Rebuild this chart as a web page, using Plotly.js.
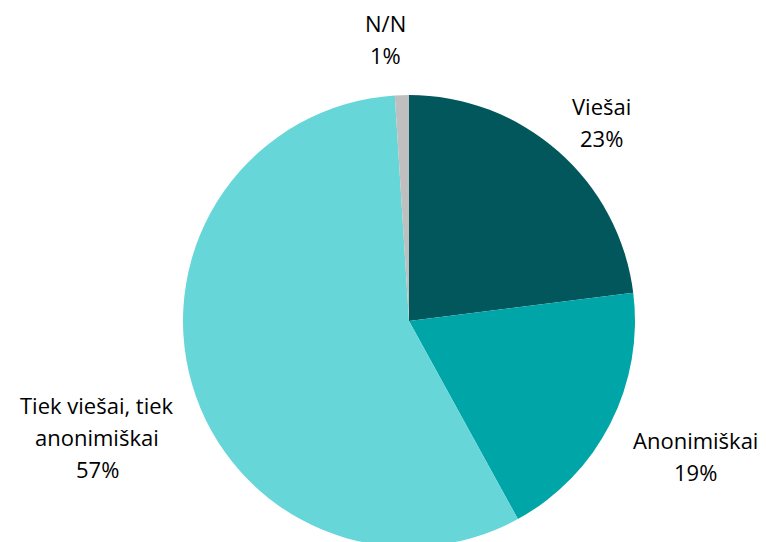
<!DOCTYPE html>
<html>
<head>
<meta charset="utf-8">
<script src="https://cdn.plot.ly/plotly-3.0.1.min.js"></script>
<style>html,body{margin:0;padding:0;background:#fff;overflow:hidden;}</style>
</head>
<body>
<div id="chart" style="width:766px;height:552px;"></div>
<script>
// Data
const categories = ["Viešai", "Anonimiškai", "Tiek viešai, tiek anonimiškai", "N/N"];
const values = [23, 19, 57, 1];
const labelLines = [["Viešai"], ["Anonimiškai"], ["Tiek viešai, tiek", "anonimiškai"], ["N/N"]];
const colors = ["#02575C", "#00A5A8", "#67D6D9", "#BFBFBF"];

// Label anchor positions (pixels, top-left origin) – style only
const labelPos = [[601, 106], [695, 440], [97, 405], [385, 23]];
const lineGap = 32;
const W = 766, H = 552;
const cx = 409, cy = 321, R = 226;

const total = values.reduce((a, b) => a + b, 0);
const annotations = [];
categories.forEach((c, i) => {
  const lines = labelLines[i].concat([Math.round(values[i] / total * 100) + "%"]);
  lines.forEach((t, k) => {
    annotations.push({
      x: labelPos[i][0] / W,
      y: 1 - (labelPos[i][1] + k * lineGap) / H,
      xref: "paper", yref: "paper",
      text: t, showarrow: false,
      xanchor: "center", yanchor: "middle",
      font: {family: "Open Sans, sans-serif", size: 22, color: "#000"}
    });
  });
});

const trace = {
  type: "pie",
  labels: categories,
  values: values,
  marker: {colors: colors, line: {width: 0}},
  sort: false,
  direction: "clockwise",
  rotation: 0,
  textinfo: "none",
  hoverinfo: "label+percent",
  domain: {x: [(cx - R) / W, (cx + R) / W], y: [(H - cy - R) / H, (H - cy + R) / H]}
};

Plotly.newPlot("chart", [trace], {
  width: W, height: H,
  margin: {l: 0, r: 0, t: 0, b: 0},
  showlegend: false,
  paper_bgcolor: "#fff",
  annotations: annotations
}, {displayModeBar: false, staticPlot: true});
</script>
</body>
</html>
